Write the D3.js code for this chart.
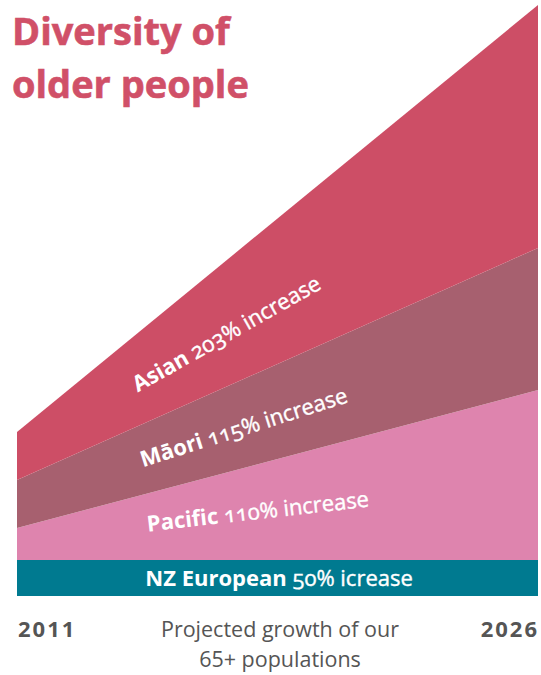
<!DOCTYPE html>
<html>
<head>
<meta charset="utf-8">
<script src="https://cdn.jsdelivr.net/npm/d3@7"></script>
<style>
  body { margin: 0; background: #fff; }
  svg text { font-family: "Open Sans", "Noto Sans", sans-serif; }
</style>
</head>
<body>
<div id="chart"></div>
<script>
// dane (grubość pasm, jednostki umowne)
const years = [2011, 2026];
const groups = ["NZ European", "Pacific", "Māori", "Asian"];
const nzEuropean = [36, 36];
const pacific = [32, 170];
const maori = [48, 142];
const asian = [48, 243];
const increases = ["50% icrease", "110% increase", "115% increase", "203% increase"];

const width = 541;
const height = 675;
const margin = { top: 5, bottom: 79, left: 17, right: 3 };

const colors = d3.scaleOrdinal()
  .domain(groups)
  .range(["#007a90", "#de84ae", "#a7606f", "#cd4e66"]);

const svg = d3.select("#chart")
  .append("svg")
  .attr("width", width)
  .attr("height", height);

const table = years.map((y, i) => ({
  year: y,
  "NZ European": nzEuropean[i],
  "Pacific": pacific[i],
  "Māori": maori[i],
  "Asian": asian[i]
}));

const series = d3.stack().keys(groups)(table);

const x = d3.scaleLinear()
  .domain(d3.extent(years))
  .range([margin.left, width - margin.right]);

const y = d3.scaleLinear()
  .domain([0, d3.max(series[series.length - 1], d => d[1])])
  .range([height - margin.bottom, margin.top]);

const area = d3.area()
  .x(d => x(d.data.year))
  .y0(d => y(d[0]))
  .y1(d => y(d[1]));

svg.append("g")
  .selectAll("path")
  .data(series)
  .join("path")
  .attr("fill", d => colors(d.key))
  .attr("d", area);

// etykiety pasm - t: miejsce wzdłuż pasma, off: przesunięcie linii bazowej
const labelPos = [
  { t: 0.503, off: 8, angle: 0, anchor: "middle" },
  { t: 0.251, off: 5, angle: -6.5, anchor: "start" },
  { t: 0.242, off: 8, angle: -17.6, anchor: "start" },
  { t: 0.232, off: 13, angle: -29.5, anchor: "start" }
];

labelPos.forEach((lp, i) => {
  const s = series[i];
  const mid = j => (y(s[j][0]) + y(s[j][1])) / 2;
  const x0 = x(years[0]), x1 = x(years[1]);
  const px = x0 + (x1 - x0) * lp.t;
  const py = mid(0) + (mid(1) - mid(0)) * lp.t + lp.off;
  const t = svg.append("text")
    .attr("transform", `translate(${px},${py}) rotate(${lp.angle})`)
    .attr("text-anchor", lp.anchor)
    .attr("fill", "#fff")
    .style("font-size", "22px")
    .style("font-variant-numeric", "oldstyle-nums");
  t.append("tspan").style("font-weight", 700).text(groups[i] + " ");
  t.append("tspan")
    .style("font-weight", 400)
    .attr("stroke", "#fff")
    .attr("stroke-width", 0.4)
    .text(increases[i]);
});

// tytuł
const title = svg.append("text")
  .attr("fill", "#d05068")
  .attr("stroke", "#d05068")
  .attr("stroke-width", 0.6)
  .style("font-size", "38px")
  .style("font-weight", 700);
title.append("tspan").attr("x", 12).attr("y", 45).text("Diversity of");
title.append("tspan").attr("x", 12).attr("y", 98).text("older people");

// oś X - lata
svg.append("text")
  .attr("x", x(2011) + 1).attr("y", 637)
  .attr("fill", "#555")
  .style("font-size", "22px").style("font-weight", 700)
  .style("letter-spacing", "2px")
  .text("2011");
svg.append("text")
  .attr("x", x(2026) + 1).attr("y", 637)
  .attr("text-anchor", "end")
  .attr("fill", "#555")
  .style("font-size", "22px").style("font-weight", 700)
  .style("letter-spacing", "2px")
  .text("2026");

const sub = svg.append("text")
  .attr("text-anchor", "middle")
  .attr("fill", "#555")
  .style("font-size", "21.5px");
sub.append("tspan").attr("x", 280).attr("y", 637).text("Projected growth of our");
sub.append("tspan").attr("x", 280).attr("y", 667).text("65+ populations");
</script>
</body>
</html>
